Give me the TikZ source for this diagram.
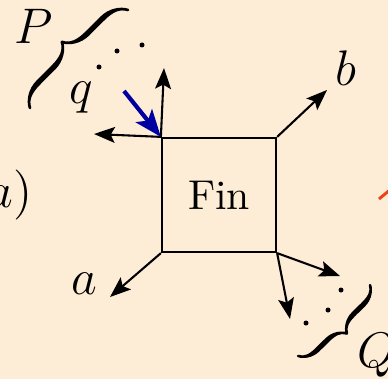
\documentclass[tikz,border=0pt]{standalone}
\usepackage{tikz}
\usetikzlibrary{arrows.meta, decorations.pathreplacing, calligraphy}
\definecolor{paper}{RGB}{253,237,214}
\definecolor{inblue}{RGB}{0,0,160}
\definecolor{edgered}{RGB}{240,64,24}
\tikzstyle{finbox} = [rectangle, draw=black, line width=0.5pt, minimum size=27.4pt, inner sep=0pt]
\tikzstyle{arrow} = [line width=0.5pt, ->, >={Stealth[length=5pt, width=3.8pt, inset=1pt]}]
\tikzstyle{inarrow} = [line width=1pt, draw=inblue, ->, >={Stealth[length=6.5pt, width=5pt, inset=1.5pt]}]
\tikzstyle{lbl} = [inner sep=0pt, font=\large]
\tikzstyle{dotmark} = [circle, fill=black, inner sep=0pt, minimum size=1.2pt]
\tikzstyle{bracep} = [decorate, decoration={calligraphic brace, amplitude=5.8pt}, line width=1.3pt]
\tikzstyle{braceq} = [decorate, decoration={calligraphic brace, amplitude=4.4pt}, line width=1.2pt]

\begin{document}
\begin{tikzpicture}[x=0.24pt, y=-0.24pt]
  \fill[paper] (0,0) rectangle (388,379);
  \useasboundingbox (0,0) rectangle (388,379);

  \node[finbox] (fin) at (219,195) {Fin};

  % labels
  \node[lbl] (p) at (34,26) {$P$};
  \node[lbl] (q) at (81,98) {$q$};
  \node[lbl] (b) at (346,68) {$b$};
  \node[lbl] (a) at (84,284) {$a$};
  \node[lbl] (bigq) at (377,355) {$Q$};
  \node[lbl, anchor=east] (tag) at (33,195) {$(a)$};

  % free ends
  \coordinate (up) at (164,68);
  \coordinate (left) at (94,134);
  \coordinate (btip) at (327,90);
  \coordinate (atip) at (110,297);
  \coordinate (qa) at (340,276);
  \coordinate (qb) at (290,319);
  \coordinate (qtail) at (124,91);

  \draw[arrow] (fin.north west) -- (up);
  \draw[arrow] (fin.north west) -- (left);
  \draw[arrow] (fin.north east) -- (btip);
  \draw[arrow] (fin.south west) -- (atip);
  \draw[arrow] (fin.south east) -- (qa);
  \draw[arrow] (fin.south east) -- (qb);
  \draw[inarrow] (qtail) -- (fin.north west);

  % dots and braces
  \node[dotmark] (p1) at (99,67) {};
  \node[dotmark] (p2) at (117,51) {};
  \node[dotmark] (p3) at (142,45) {};
  \node[dotmark] (q1) at (341,290) {};
  \node[dotmark] (q2) at (328,310) {};
  \node[dotmark] (q3) at (306,323) {};
  \draw[bracep] (30,108) -- (128,10);
  \draw[braceq] (370,285) -- (298,356);

  \draw[edgered, line width=0.7pt] (379,199) -- (397,184);
\end{tikzpicture}
\end{document}
